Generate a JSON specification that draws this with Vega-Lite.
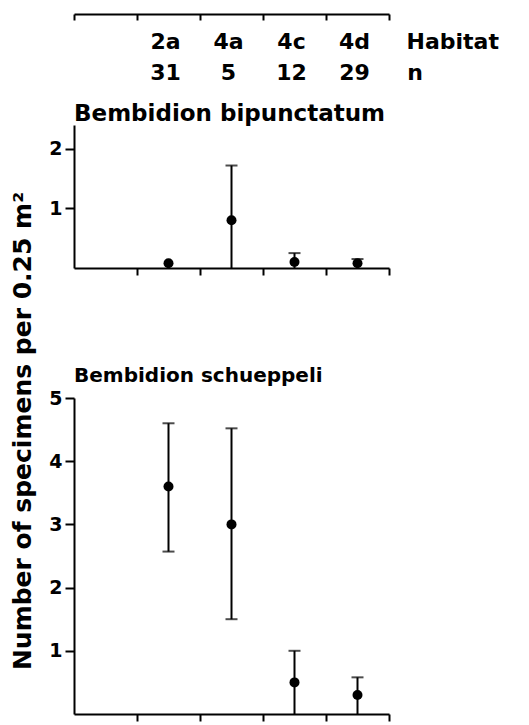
{
  "$schema": "https://vega.github.io/schema/vega-lite/v6.json",
  "background": "white",
  "padding": {"left": 10, "top": 13, "right": 5, "bottom": 2},
  "title": {"text": "Number of specimens per 0.25 m²", "orient": "left", "anchor": "middle", "frame": "group",
            "fontSize": 25, "offset": 13, "dx": -417},
  "config": {
    "view": {"stroke": null},
    "font": "DejaVu Sans",
    "axis": {
      "domainColor": "black", "domainWidth": 2, "tickColor": "black", "tickWidth": 2,
      "labelColor": "black", "labelFont": "DejaVu Sans", "labelFontWeight": "bold", "labelFontSize": 19,
      "grid": false, "titleColor": "black", "titleFont": "DejaVu Sans", "titleFontWeight": "bold"
    },
    "title": {"font": "DejaVu Sans", "fontWeight": "bold", "fontSize": 21, "color": "black", "anchor": "start", "frame": "group"}
  },
  "datasets": {
    "hab": [
      {"pos": 1.5, "row": "h", "label": "2a"},
      {"pos": 2.5, "row": "h", "label": "4a"},
      {"pos": 3.5, "row": "h", "label": "4c"},
      {"pos": 4.5, "row": "h", "label": "4d"},
      {"pos": 6.06, "row": "h", "label": "Habitat"},
      {"pos": 1.5, "row": "n", "label": "31"},
      {"pos": 2.5, "row": "n", "label": "5"},
      {"pos": 3.5, "row": "n", "label": "12"},
      {"pos": 4.5, "row": "n", "label": "29"},
      {"pos": 5.46, "row": "n", "label": "n"}
    ],
    "means": [
      {"species": "bipunctatum", "pos": 1.5, "mean": 0.08, "lo": 0, "hi": 0.08},
      {"species": "bipunctatum", "pos": 2.5, "mean": 0.8, "lo": 0, "hi": 1.72},
      {"species": "bipunctatum", "pos": 3.5, "mean": 0.1, "lo": 0, "hi": 0.25},
      {"species": "bipunctatum", "pos": 4.5, "mean": 0.08, "lo": 0, "hi": 0.15},
      {"species": "schueppeli", "pos": 1.5, "mean": 3.6, "lo": 2.57, "hi": 4.6},
      {"species": "schueppeli", "pos": 2.5, "mean": 3.0, "lo": 1.5, "hi": 4.52},
      {"species": "schueppeli", "pos": 3.5, "mean": 0.5, "lo": 0, "hi": 1.0},
      {"species": "schueppeli", "pos": 4.5, "mean": 0.3, "lo": 0, "hi": 0.58}
    ]
  },
  "bounds": "full",
  "spacing": 90,
  "vconcat": [
    {
      "bounds": "flush",
      "spacing": 26,
      "vconcat": [
        {
          "width": 315, "height": 85,
          "data": {"name": "hab"},
          "mark": {"type": "text", "fontSize": 22, "fontWeight": "bold", "baseline": "middle", "align": "center", "color": "black", "dy": 1, "dx": -3},
          "encoding": {
            "x": {"field": "pos", "type": "quantitative", "scale": {"domain": [0, 5]},
                  "axis": {"orient": "top", "values": [0, 1, 2, 3, 4, 5], "labels": false, "tickSize": -6, "title": null}},
            "y": {"field": "row", "type": "nominal", "scale": {"type": "point", "domain": ["h", "n"], "padding": 0.87}, "axis": null},
            "text": {"field": "label"}
          }
        },
        {
          "width": 315, "height": 143,
          "title": {"text": "Bembidion bipunctatum", "offset": -1, "fontSize": 23},
          "data": {"name": "means"},
          "transform": [{"filter": "datum.species == 'bipunctatum'"}],
          "encoding": {
            "x": {"field": "pos", "type": "quantitative", "scale": {"domain": [0, 5]},
                  "axis": {"values": [1, 2, 3, 4, 5], "labels": false, "tickSize": 7, "title": null}}
          },
          "layer": [
            {"mark": {"type": "rule", "color": "black", "strokeWidth": 2},
             "encoding": {"y": {"field": "lo", "type": "quantitative", "scale": {"domain": [0, 2.32]},
                                "axis": {"values": [1, 2], "format": "d", "tickSize": 9, "labelPadding": 3, "title": null}},
                          "y2": {"field": "hi"}}},
            {"transform": [{"filter": "datum.hi > datum.mean"}],
             "mark": {"type": "tick", "color": "black", "thickness": 2, "size": 12, "orient": "horizontal"},
             "encoding": {"y": {"field": "hi", "type": "quantitative"}}},
            {"mark": {"type": "point", "filled": true, "color": "black", "size": 100, "opacity": 1},
             "encoding": {"y": {"field": "mean", "type": "quantitative"}}}
          ]
        }
      ]
    },
    {
      "width": 315, "height": 316,
      "title": {"text": "Bembidion schueppeli", "offset": 3, "fontSize": 20},
      "data": {"name": "means"},
      "transform": [{"filter": "datum.species == 'schueppeli'"}],
      "encoding": {
        "x": {"field": "pos", "type": "quantitative", "scale": {"domain": [0, 5]},
              "axis": {"values": [1, 2, 3, 4, 5], "labels": false, "tickSize": 7, "title": null}}
      },
      "layer": [
        {"mark": {"type": "rule", "color": "black", "strokeWidth": 2},
         "encoding": {"y": {"field": "lo", "type": "quantitative", "scale": {"domain": [0, 5]},
                            "axis": {"values": [1, 2, 3, 4, 5], "format": "d", "tickSize": 9, "labelPadding": 3, "title": null}},
                      "y2": {"field": "hi"}}},
        {"transform": [{"filter": "datum.hi > datum.mean"}],
         "mark": {"type": "tick", "color": "black", "thickness": 2, "size": 12, "orient": "horizontal"},
         "encoding": {"y": {"field": "hi", "type": "quantitative"}}},
        {"transform": [{"filter": "datum.lo > 0"}],
         "mark": {"type": "tick", "color": "black", "thickness": 2, "size": 12, "orient": "horizontal"},
         "encoding": {"y": {"field": "lo", "type": "quantitative"}}},
        {"mark": {"type": "point", "filled": true, "color": "black", "size": 100, "opacity": 1},
         "encoding": {"y": {"field": "mean", "type": "quantitative"}}}
      ]
    }
  ]
}
